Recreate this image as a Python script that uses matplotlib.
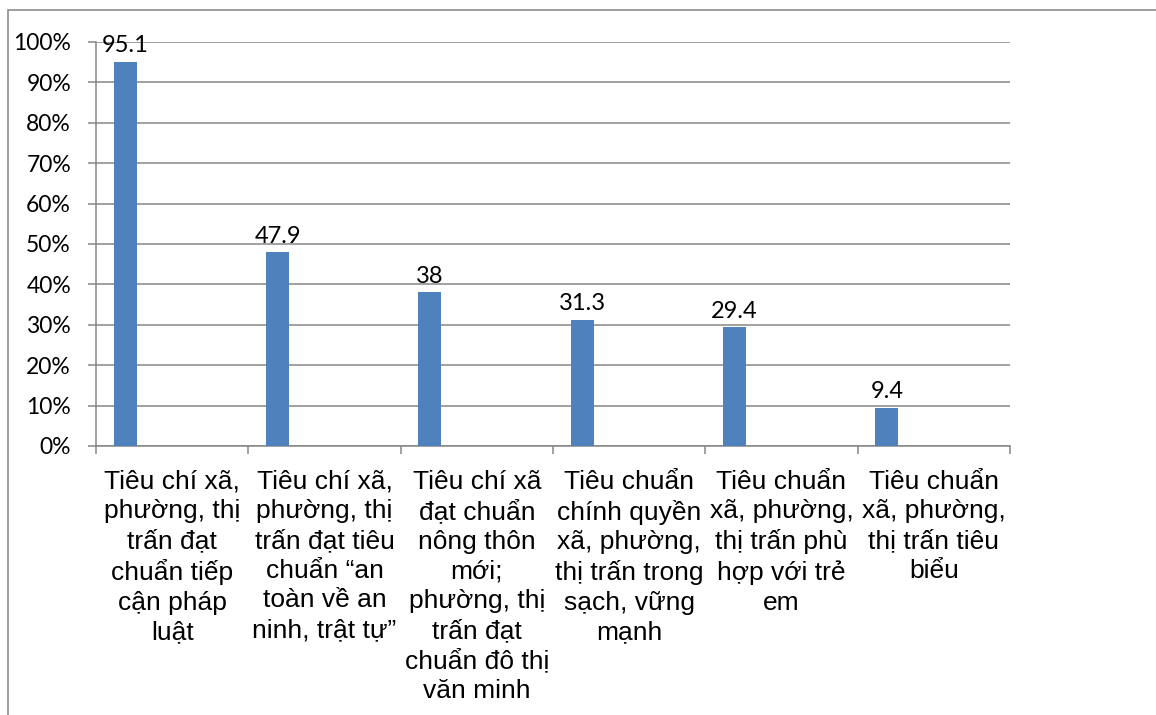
import matplotlib.pyplot as plt
from matplotlib.patches import Rectangle
from matplotlib.ticker import FixedLocator, FuncFormatter

# Category labels (pre-wrapped) and percentages
categories = [
    "Tiêu chí xã,\nphường, thị\ntrấn đạt\nchuẩn tiếp\ncận pháp\nluật",
    "Tiêu chí xã,\nphường, thị\ntrấn đạt tiêu\nchuẩn “an\ntoàn về an\nninh, trật tự”",
    "Tiêu chí xã\nđạt chuẩn\nnông thôn\nmới;\nphường, thị\ntrấn đạt\nchuẩn đô thị\nvăn minh",
    "Tiêu chuẩn\nchính quyền\nxã, phường,\nthị trấn trong\nsạch, vững\nmạnh",
    "Tiêu chuẩn\nxã, phường,\nthị trấn phù\nhợp với trẻ\nem",
    "Tiêu chuẩn\nxã, phường,\nthị trấn tiêu\nbiểu",
]
values = [95.1, 47.9, 38, 31.3, 29.4, 9.4]
y_ticks = list(range(0, 101, 10))

bar_color = "#4F81BD"
grid_color = "#868686"

W, H = 1156, 715
fig = plt.figure(figsize=(W / 100, H / 100), dpi=100)

# outer chart-area border (only top and left edges fall inside the image)
fig.patches.append(Rectangle((8 / W, -0.1), 1.2, (H - 10) / H + 0.1,
                             transform=fig.transFigure, fill=False,
                             edgecolor="#8c8c8c", linewidth=1.2))

ax = fig.add_axes([96 / W, (H - 446) / H, (1010 - 96) / W, (446 - 42) / H])

n = len(values)
xs = [i + 0.192 for i in range(n)]
ax.bar(xs, values, width=0.15, color=bar_color, zorder=3)

for x, v in zip(xs, values):
    ax.annotate(f"{v:g}", (x, v), xytext=(0, 4), textcoords="offset points",
                ha="center", va="bottom", fontsize=17, family="Lato", color="black")

ax.set_xlim(0, n)
ax.set_ylim(0, 100)

ax.yaxis.set_major_locator(FixedLocator(y_ticks))
ax.yaxis.set_major_formatter(FuncFormatter(lambda v, p: f"{v:.0f}%"))
ax.tick_params(axis="y", length=6, width=1.1, color=grid_color, pad=12,
               labelsize=16.5)
for lab in ax.get_yticklabels():
    lab.set_family("Lato")

# category boundary ticks, labels centred in each slot
ax.xaxis.set_major_locator(FixedLocator(range(n + 1)))
ax.xaxis.set_major_formatter(FuncFormatter(lambda v, p: ""))
ax.xaxis.set_minor_locator(FixedLocator([i + 0.5 for i in range(n)]))
ax.set_xticklabels(categories, minor=True)
ax.tick_params(axis="x", which="major", length=6, width=1.1, color=grid_color)
ax.tick_params(axis="x", which="minor", length=0, pad=17, labelsize=19)
for lab in ax.get_xticklabels(minor=True):
    lab.set_family("Liberation Sans")
    lab.set_linespacing(1.3)
    lab.set_verticalalignment("top")

ax.grid(axis="y", color=grid_color, linewidth=1.1, zorder=0)
for side in ["top", "right"]:
    ax.spines[side].set_visible(False)
for side in ["left", "bottom"]:
    ax.spines[side].set_color(grid_color)
    ax.spines[side].set_linewidth(1.1)

fig.savefig("out.png", dpi=100)
